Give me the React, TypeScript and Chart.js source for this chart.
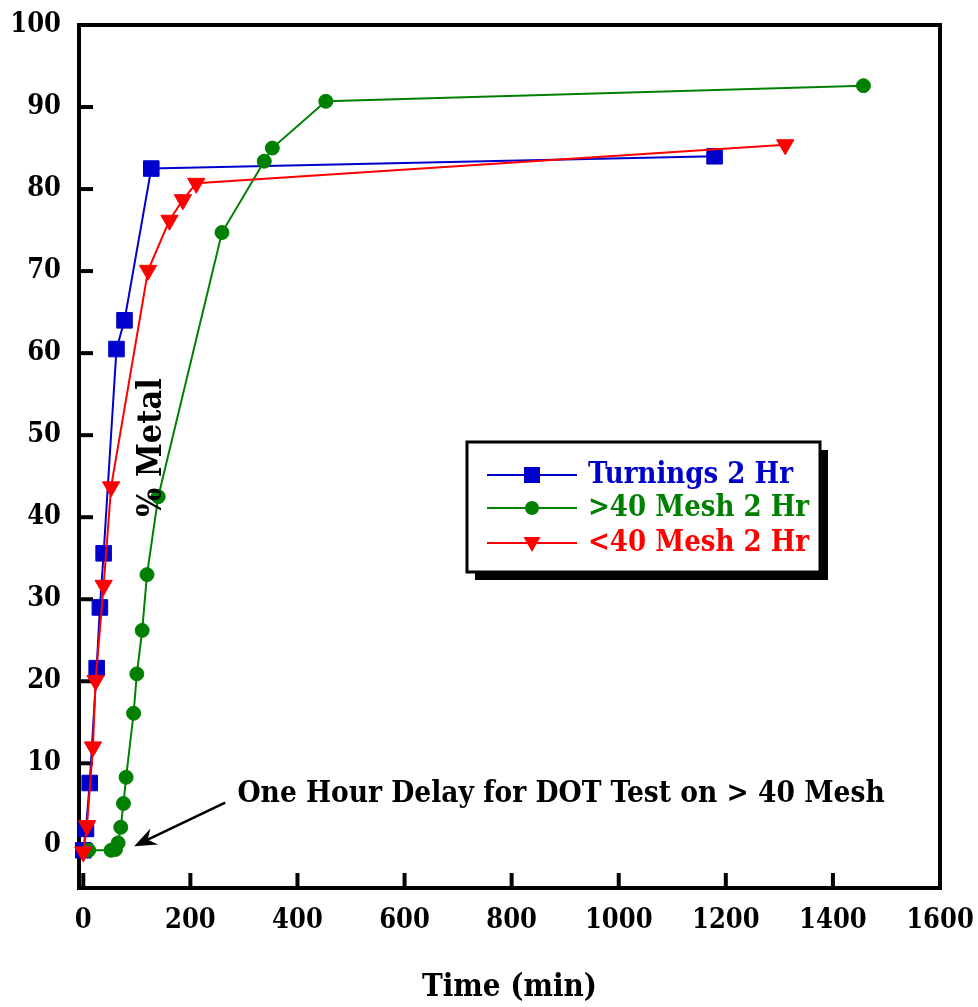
import { useEffect, useRef } from 'react';
import { Chart, registerables } from 'chart.js';

Chart.register(...registerables);

// Turnings, 2 hour run
const turningsTime = [0, 5, 12, 25, 31, 38, 62, 77, 127, 1179];
const turningsMetal = [-0.6, 2.0, 7.6, 21.6, 29.0, 35.6, 60.5, 64.0, 82.5, 84.0];

// >40 mesh, 2 hour run (one hour delay before the test started)
const coarseTime = [10, 52, 60, 65, 70, 75, 80, 94, 100, 110, 119, 140, 259, 338, 353, 453, 1457];
const coarseMetal = [-0.6, -0.6, -0.5, 0.3, 2.2, 5.1, 8.3, 16.1, 20.9, 26.2, 33.0, 42.5, 74.7, 83.4, 85.0, 90.7, 92.6];

// <40 mesh, 2 hour run
const fineTime = [0, 7, 18, 23, 38, 52, 121, 161, 186, 211, 1311];
const fineMetal = [-0.8, 2.4, 12.0, 20.1, 31.7, 43.7, 70.1, 76.2, 78.7, 80.7, 85.4];

const xTicks = [0, 200, 400, 600, 800, 1000, 1200, 1400, 1600];
const yTicks = [0, 10, 20, 30, 40, 50, 60, 70, 80, 90, 100];

const seriesNames = ['Turnings 2 Hr', '>40 Mesh 2 Hr', '<40 Mesh 2 Hr'];
const seriesColors = ['#0000CC', '#008000', '#FF0000'];

const yTitle = '% Metal';
const xTitle = 'Time (min)';
const noteText = 'One Hour Delay for DOT Test on > 40 Mesh';

// annotation anchors in data units
const noteAnchor = { x: 288, y: 6.2 };
const arrowTail = { x: 265, y: 5.2 };
const arrowTip = { x: 95, y: -0.1 };
const yTitleAnchor = { x: 129, y: 48.5 };

const SERIF = '"DejaVu Serif Condensed", "DejaVu Serif", serif';

const zip = (xs: number[], ys: number[]) => xs.map((x, i) => ({ x, y: ys[i] }));

const framePlugin = {
  id: 'frame',
  beforeDatasetsDraw(chart: any) {
    const { ctx, chartArea, scales } = chart;
    const { left, right, top, bottom } = chartArea;
    ctx.save();
    ctx.strokeStyle = '#000';
    ctx.lineWidth = 4;
    ctx.lineCap = 'square';
    ctx.strokeRect(left, top, right - left, bottom - top);
    ctx.lineCap = 'butt';
    // inward ticks on the left spine
    yTicks.forEach((v) => {
      if (v >= 100) return;
      const y = scales.y.getPixelForValue(v);
      ctx.beginPath();
      ctx.moveTo(left, y);
      ctx.lineTo(left + 14, y);
      ctx.stroke();
    });
    // inward ticks on the bottom spine
    xTicks.forEach((v) => {
      if (v >= 1600) return;
      const x = scales.x.getPixelForValue(v);
      ctx.beginPath();
      ctx.moveTo(x, bottom);
      ctx.lineTo(x, bottom - 15);
      ctx.stroke();
    });
    ctx.restore();
  },
  afterDraw(chart: any) {
    const { ctx, scales } = chart;
    const px = (p: { x: number; y: number }) => ({
      x: scales.x.getPixelForValue(p.x),
      y: scales.y.getPixelForValue(p.y),
    });
    ctx.save();

    // rotated y title inside the plot
    const yt = px(yTitleAnchor);
    ctx.translate(yt.x, yt.y);
    ctx.rotate(-Math.PI / 2);
    ctx.fillStyle = '#000';
    ctx.font = `bold 34px ${SERIF}`;
    ctx.textAlign = 'center';
    ctx.textBaseline = 'middle';
    ctx.fillText(yTitle, 0, 0);
    ctx.setTransform(1, 0, 0, 1, 0, 0);

    // note and arrow
    const n = px(noteAnchor);
    ctx.font = `bold 29.5px ${SERIF}`;
    ctx.textAlign = 'left';
    ctx.textBaseline = 'middle';
    ctx.fillText(noteText, n.x, n.y);
    const a = px(arrowTail);
    const b = px(arrowTip);
    const ang = Math.atan2(b.y - a.y, b.x - a.x);
    const head = 24;
    const notch = 15;
    const spread = 0.38;
    const nx = b.x - notch * Math.cos(ang);
    const ny = b.y - notch * Math.sin(ang);
    ctx.strokeStyle = '#000';
    ctx.lineWidth = 2.5;
    ctx.beginPath();
    ctx.moveTo(a.x, a.y);
    ctx.lineTo(nx, ny);
    ctx.stroke();
    ctx.beginPath();
    ctx.moveTo(b.x, b.y);
    ctx.lineTo(b.x - head * Math.cos(ang - spread), b.y - head * Math.sin(ang - spread));
    ctx.lineTo(nx, ny);
    ctx.lineTo(b.x - head * Math.cos(ang + spread), b.y - head * Math.sin(ang + spread));
    ctx.closePath();
    ctx.fillStyle = '#000';
    ctx.fill();

    // legend box with drop shadow
    const bx = 467, by = 442, bw = 353, bh = 130;
    ctx.fillStyle = '#000';
    ctx.fillRect(bx + 8, by + 8, bw, bh);
    ctx.fillStyle = '#fff';
    ctx.fillRect(bx, by, bw, bh);
    ctx.lineWidth = 3;
    ctx.strokeRect(bx, by, bw, bh);
    const rows = [475, 508, 543];
    rows.forEach((ry, i) => {
      const c = seriesColors[i];
      ctx.strokeStyle = c;
      ctx.fillStyle = c;
      ctx.lineWidth = 2;
      ctx.beginPath();
      ctx.moveTo(487, ry);
      ctx.lineTo(577, ry);
      ctx.stroke();
      const mx = 532;
      ctx.beginPath();
      if (i === 0) {
        ctx.rect(mx - 8, ry - 8, 16, 16);
      } else if (i === 1) {
        ctx.arc(mx, ry, 7, 0, Math.PI * 2);
      } else {
        ctx.moveTo(mx - 8.5, ry - 6);
        ctx.lineTo(mx + 8.5, ry - 6);
        ctx.lineTo(mx, ry + 9);
        ctx.closePath();
      }
      ctx.fill();
      ctx.font = `bold 29px ${SERIF}`;
      ctx.textAlign = 'left';
      ctx.textBaseline = 'middle';
      ctx.fillText(seriesNames[i], 588, ry);
    });
    ctx.restore();
  },
};

export default function App() {
  const ref = useRef<HTMLCanvasElement | null>(null);

  useEffect(() => {
    document.body.style.margin = '0';
    const canvas = ref.current;
    if (!canvas) return;
    const tickFont = { family: SERIF, size: 27, weight: 'bold' as const };
    const plain = (v: any) => String(v);
    const common = { borderWidth: 2, tension: 0, clip: false as const, showLine: true, pointBorderWidth: 1 };
    const chart = new Chart(canvas, {
      type: 'line',
      data: {
        datasets: [
          {
            ...common,
            label: seriesNames[0],
            data: zip(turningsTime, turningsMetal),
            borderColor: seriesColors[0],
            backgroundColor: seriesColors[0],
            pointBackgroundColor: seriesColors[0],
            pointBorderColor: seriesColors[0],
            pointStyle: 'rect',
            pointRadius: 11,
            order: 3,
          },
          {
            ...common,
            label: seriesNames[1],
            data: zip(coarseTime, coarseMetal),
            borderColor: seriesColors[1],
            backgroundColor: seriesColors[1],
            pointBackgroundColor: seriesColors[1],
            pointBorderColor: seriesColors[1],
            pointStyle: 'circle',
            pointRadius: 7,
            order: 2,
          },
          {
            ...common,
            label: seriesNames[2],
            data: zip(fineTime, fineMetal),
            borderColor: seriesColors[2],
            backgroundColor: seriesColors[2],
            pointBackgroundColor: seriesColors[2],
            pointBorderColor: seriesColors[2],
            pointStyle: 'triangle',
            pointRotation: 180,
            pointRadius: 10,
            order: 1,
          },
        ],
      },
      options: {
        responsive: false,
        animation: false,
        devicePixelRatio: 1,
        events: [],
        layout: { padding: { top: 25, right: 38, left: 0, bottom: 0 } },
        plugins: { legend: { display: false }, tooltip: { enabled: false } },
        scales: {
          x: {
            type: 'linear',
            min: -8,
            max: 1600,
            grid: { display: false },
            border: { display: false },
            afterBuildTicks: (s: any) => {
              s.ticks = xTicks.map((v) => ({ value: v }));
            },
            afterFit: (s: any) => {
              s.height = 119;
              s.paddingLeft = 0;
              s.paddingRight = 0;
            },
            ticks: { font: tickFont, color: '#000', padding: 9, maxRotation: 0, autoSkip: false, callback: plain },
            title: {
              display: true,
              text: xTitle,
              color: '#000',
              font: { family: SERIF, size: 31, weight: 'bold' },
              padding: { top: 0, bottom: 0 },
            },
          },
          y: {
            type: 'linear',
            min: -5.2,
            max: 100,
            grid: { display: false },
            border: { display: false },
            afterBuildTicks: (s: any) => {
              s.ticks = yTicks.map((v) => ({ value: v }));
            },
            afterFit: (s: any) => {
              s.width = 79;
              s.paddingTop = 0;
              s.paddingBottom = 0;
            },
            ticks: { font: tickFont, color: '#000', padding: 10, autoSkip: false, callback: plain },
          },
        },
      },
      plugins: [framePlugin],
    });
    return () => chart.destroy();
  }, []);

  return (
    <div style={{ position: 'absolute', left: 0, top: 0, width: 978, height: 1007, background: '#fff' }}>
      <canvas ref={ref} width={978} height={1007} style={{ display: 'block' }} />
    </div>
  );
}
